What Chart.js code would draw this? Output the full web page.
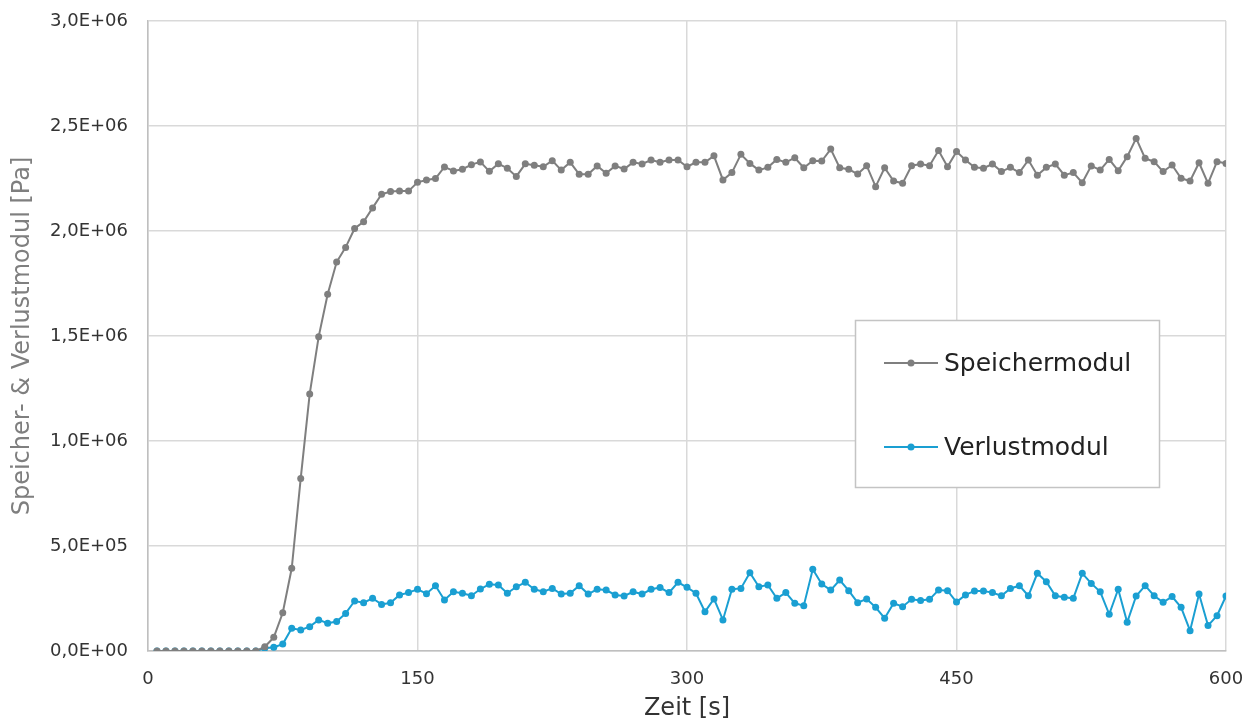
<!DOCTYPE html>
<html>
<head>
<meta charset="utf-8">
<script src="https://cdn.jsdelivr.net/npm/chart.js@4/dist/chart.umd.min.js"></script>
<style>
  body { margin: 0; background: #fff; }
  #wrap { width: 1253px; height: 723px; }
</style>
</head>
<body>
<div id="wrap"><canvas id="modulChart" width="1253" height="723"></canvas></div>
<script>
// Messzeitpunkte [s]
const zeit = [
  5, 10, 15, 20, 25, 30, 35, 40, 45, 50, 55, 60,
  65, 70, 75, 80, 85, 90, 95, 100, 105, 110, 115, 120,
  125, 130, 135, 140, 145, 150, 155, 160, 165, 170, 175, 180,
  185, 190, 195, 200, 205, 210, 215, 220, 225, 230, 235, 240,
  245, 250, 255, 260, 265, 270, 275, 280, 285, 290, 295, 300,
  305, 310, 315, 320, 325, 330, 335, 340, 345, 350, 355, 360,
  365, 370, 375, 380, 385, 390, 395, 400, 405, 410, 415, 420,
  425, 430, 435, 440, 445, 450, 455, 460, 465, 470, 475, 480,
  485, 490, 495, 500, 505, 510, 515, 520, 525, 530, 535, 540,
  545, 550, 555, 560, 565, 570, 575, 580, 585, 590, 595, 600
];

// Speichermodul G' [Pa]
const speichermodul = [
  0, 0, 0, 0, 0, 0, 0, 0, 0, 0, 0, 0,
  20000, 65000, 182000, 394000, 822000, 1224000, 1497000, 1699000, 1852000, 1922000, 2012000, 2044000,
  2110000, 2175000, 2188000, 2190000, 2190000, 2232000, 2243000, 2250000, 2305000, 2286000, 2294000, 2316000,
  2329000, 2284000, 2320000, 2299000, 2260000, 2320000, 2313000, 2306000, 2335000, 2290000, 2327000, 2270000,
  2270000, 2310000, 2275000, 2310000, 2295000, 2327000, 2319000, 2338000, 2327000, 2338000, 2338000, 2306000,
  2327000, 2327000, 2358000, 2243000, 2278000, 2365000, 2322000, 2290000, 2303000, 2341000, 2327000, 2349000,
  2301000, 2335000, 2333000, 2390000, 2301000, 2294000, 2271000, 2311000, 2211000, 2301000, 2238000, 2227000,
  2311000, 2319000, 2311000, 2383000, 2306000, 2378000, 2338000, 2303000, 2299000, 2319000, 2283000, 2303000,
  2278000, 2338000, 2266000, 2303000, 2319000, 2266000, 2278000, 2230000, 2310000, 2290000, 2341000, 2287000,
  2354000, 2441000, 2346000, 2330000, 2283000, 2314000, 2251000, 2238000, 2325000, 2227000, 2330000, 2322000
];

// Verlustmodul G'' [Pa]
const verlustmodul = [
  0, 0, 0, 0, 0, 0, 0, 0, 0, 0, 0, 0,
  13000, 18000, 33000, 108000, 100000, 116000, 148000, 132000, 140000, 179000, 238000, 230000,
  251000, 222000, 230000, 267000, 278000, 294000, 273000, 311000, 243000, 282000, 275000, 263000,
  295000, 318000, 314000, 275000, 306000, 327000, 294000, 282000, 298000, 271000, 275000, 311000,
  271000, 294000, 290000, 267000, 262000, 282000, 271000, 294000, 302000, 278000, 327000, 303000,
  275000, 187000, 248000, 148000, 294000, 298000, 373000, 306000, 314000, 251000, 278000, 227000,
  216000, 389000, 319000, 290000, 338000, 287000, 230000, 248000, 208000, 156000, 227000, 211000,
  246000, 240000, 246000, 290000, 287000, 233000, 267000, 286000, 286000, 278000, 263000, 298000,
  311000, 263000, 370000, 330000, 263000, 256000, 251000, 370000, 322000, 282000, 175000, 294000,
  137000, 262000, 311000, 263000, 232000, 259000, 208000, 97000, 271000, 121000, 168000, 262000
];

const xTicks = [0, 150, 300, 450, 600];
const yMax = 3000000;
const yStep = 500000;

const grau = '#7f7f7f';
const blau = '#1a9fd2';
const fontFamily = '"DejaVu Sans", sans-serif';

// 3000000 -> "3,0E+06"
function formatExp(v) {
  const [mant, exp] = v.toExponential(1).split('e');
  const e = parseInt(exp, 10);
  const sign = e < 0 ? '-' : '+';
  return mant.replace('.', ',') + 'E' + sign + String(Math.abs(e)).padStart(2, '0');
}

function toPoints(ys) {
  return zeit.map((t, i) => ({ x: t, y: ys[i] }));
}

// Legende als Kasten im Diagramm
const boxLegend = {
  id: 'boxLegend',
  afterDraw(chart) {
    const ctx = chart.ctx;
    const box = { x: 855.5, y: 320.5, w: 304, h: 167 };
    ctx.save();
    ctx.fillStyle = '#ffffff';
    ctx.fillRect(box.x, box.y, box.w, box.h);
    ctx.strokeStyle = '#c4c4c4';
    ctx.lineWidth = 1.5;
    ctx.strokeRect(box.x, box.y, box.w, box.h);

    const rows = [363, 447];
    chart.data.datasets.forEach((ds, i) => {
      const y = rows[i];
      ctx.strokeStyle = ds.borderColor;
      ctx.lineWidth = 2;
      ctx.beginPath();
      ctx.moveTo(884, y);
      ctx.lineTo(938, y);
      ctx.stroke();
      ctx.fillStyle = ds.borderColor;
      ctx.beginPath();
      ctx.arc(911, y, 3.5, 0, Math.PI * 2);
      ctx.fill();
      ctx.fillStyle = '#222222';
      ctx.font = '25px ' + fontFamily;
      ctx.textBaseline = 'middle';
      ctx.textAlign = 'left';
      ctx.fillText(ds.label, 944, y + 1);
    });
    ctx.restore();
  }
};

new Chart(document.getElementById('modulChart'), {
  type: 'line',
  data: {
    datasets: [
      {
        label: 'Speichermodul',
        data: toPoints(speichermodul),
        borderColor: grau,
        backgroundColor: grau,
        borderWidth: 2,
        pointRadius: 3.5,
        pointBorderWidth: 0,
        tension: 0
      },
      {
        label: 'Verlustmodul',
        data: toPoints(verlustmodul),
        borderColor: blau,
        backgroundColor: blau,
        borderWidth: 2,
        pointRadius: 3.5,
        pointBorderWidth: 0,
        tension: 0
      }
    ]
  },
  options: {
    responsive: false,
    animation: false,
    layout: { padding: { top: 21, right: 27, left: 0, bottom: 0 } },
    plugins: {
      legend: { display: false },
      tooltip: { enabled: false }
    },
    scales: {
      x: {
        type: 'linear',
        min: 0,
        max: 600,
        afterBuildTicks: (scale) => { scale.ticks = xTicks.map(v => ({ value: v })); },
        afterFit: (scale) => {
          scale.height = 72;
          scale.paddingLeft = 0;
          scale.paddingRight = 0;
        },
        grid: { color: '#d9d9d9', lineWidth: 1.5, drawTicks: false },
        border: { color: '#bfbfbf', width: 1.5 },
        ticks: {
          padding: 18,
          color: '#333333',
          font: { family: fontFamily, size: 18 }
        },
        title: {
          display: true,
          text: 'Zeit [s]',
          color: '#333333',
          padding: { top: 0, bottom: 0 },
          font: { family: fontFamily, size: 24 }
        }
      },
      y: {
        min: 0,
        max: yMax,
        afterFit: (scale) => {
          scale.width = 148;
          scale.paddingTop = 0;
          scale.paddingBottom = 0;
        },
        grid: { color: '#d9d9d9', lineWidth: 1.5, drawTicks: false },
        border: { color: '#bfbfbf', width: 1.5 },
        ticks: {
          stepSize: yStep,
          padding: 20,
          color: '#333333',
          font: { family: fontFamily, size: 18 },
          callback: (v) => formatExp(v)
        },
        title: {
          display: true,
          text: 'Speicher- & Verlustmodul [Pa]',
          color: grau,
          padding: { top: 8, bottom: 0 },
          font: { family: fontFamily, size: 24 }
        }
      }
    }
  },
  plugins: [boxLegend]
});
</script>
</body>
</html>
